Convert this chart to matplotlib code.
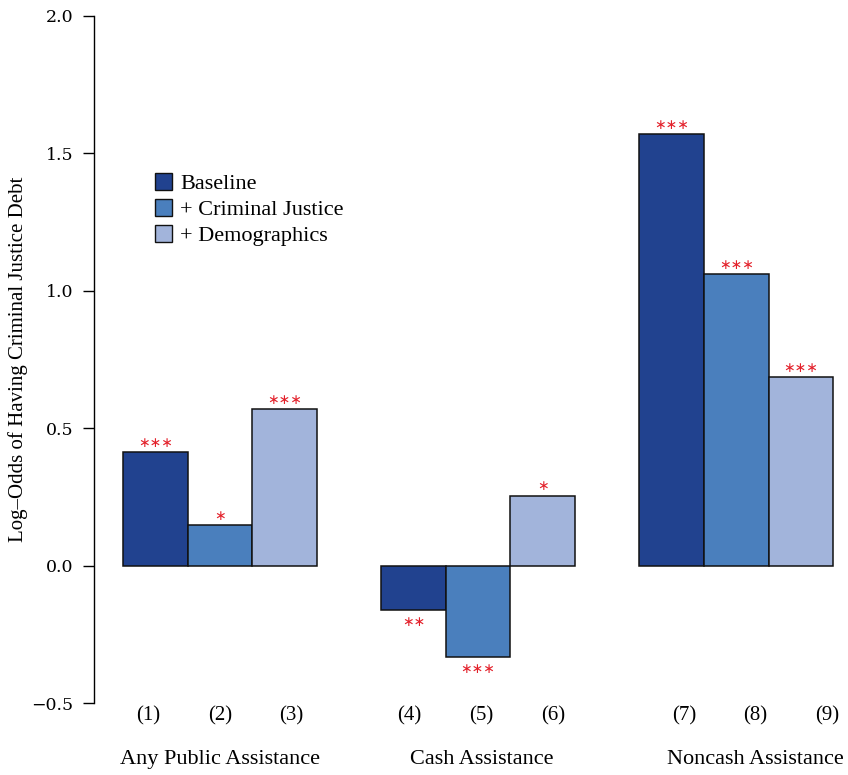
import matplotlib
matplotlib.use("Agg")
import matplotlib.pyplot as plt
from matplotlib.patches import Patch

plt.rcParams["font.family"] = ["DejaVu Serif"]

# data
groups = ["Any Public Assistance", "Cash Assistance", "Noncash Assistance"]
models = ["Baseline", "+ Criminal Justice", "+ Demographics"]
col_labels = ["(1)", "(2)", "(3)", "(4)", "(5)", "(6)", "(7)", "(8)", "(9)"]
baseline = [0.415, -0.160, 1.571]
criminal = [0.149, -0.331, 1.062]
demographics = [0.571, 0.255, 0.687]
stars_baseline = ["***", "**", "***"]
stars_criminal = ["*", "***", "***"]
stars_demog = ["***", "*", "***"]

COLORS = ["#21428F", "#4A7FBD", "#A2B4DB"]
STAR = "#E3202A"
SERIF = "Liberation Serif"

fig = plt.figure(figsize=(8.48, 7.75), dpi=100)
ax = fig.add_axes([94 / 848, 72 / 775, 754 / 848, 687 / 775])

series = [baseline, criminal, demographics]
stars = [stars_baseline, stars_criminal, stars_demog]
for m, (vals, st) in enumerate(zip(series, stars)):
    xs = [g * 4 + m for g in range(len(groups))]
    ax.bar(xs, vals, width=1.0, color=COLORS[m], edgecolor="#111111",
           linewidth=1.1, label=models[m])
    for x, v, s in zip(xs, vals, st):
        off = 6.5 if v >= 0 else -9
        ax.annotate("\u2217" * len(s), (x, v), xytext=(0, off),
                    textcoords="offset points", ha="center", va="center",
                    color=STAR, fontsize=10, family="DejaVu Sans")

ax.set_xlim(-0.95, 10.73)
ax.set_ylim(-0.5, 2.0)
ax.set_yticks([-0.5, 0.0, 0.5, 1.0, 1.5, 2.0])
ax.set_yticklabels(["\u22120.5", "0.0", "0.5", "1.0", "1.5", "2.0"])
ax.tick_params(axis="y", length=8, width=1, labelsize=12.5, pad=7)
ax.set_xticks([])
for s in ["top", "right", "bottom"]:
    ax.spines[s].set_visible(False)
ax.spines["left"].set_linewidth(1)
ax.set_ylabel("Log\u2013Odds of Having Criminal Justice Debt",
              fontsize=15, family=SERIF, va="center")
ax.yaxis.set_label_coords(-76 / 754, 0.5)

# column numbers and group names under the bars
centers = [1.0, 5.05, 9.3]
for g, c in enumerate(centers):
    for k in range(3):
        ax.text(c + (k - 1) * 1.11, -0.545, col_labels[g * 3 + k],
                ha="center", va="center", fontsize=15, family=SERIF)
    ax.text(c, -0.705, groups[g], ha="center", va="center", fontsize=16,
            family=SERIF)

handles = [Patch(facecolor=COLORS[i], edgecolor="#111111", linewidth=1)
           for i in range(3)]
ax.legend(handles, models, loc="upper left", bbox_to_anchor=(0.081, 0.771),
          frameon=False, handlelength=0.78, handleheight=0.78,
          handletextpad=0.35, labelspacing=0.22, borderaxespad=0,
          borderpad=0, prop={"family": SERIF, "size": 16})

fig.savefig("out.png", dpi=100, facecolor="white")
